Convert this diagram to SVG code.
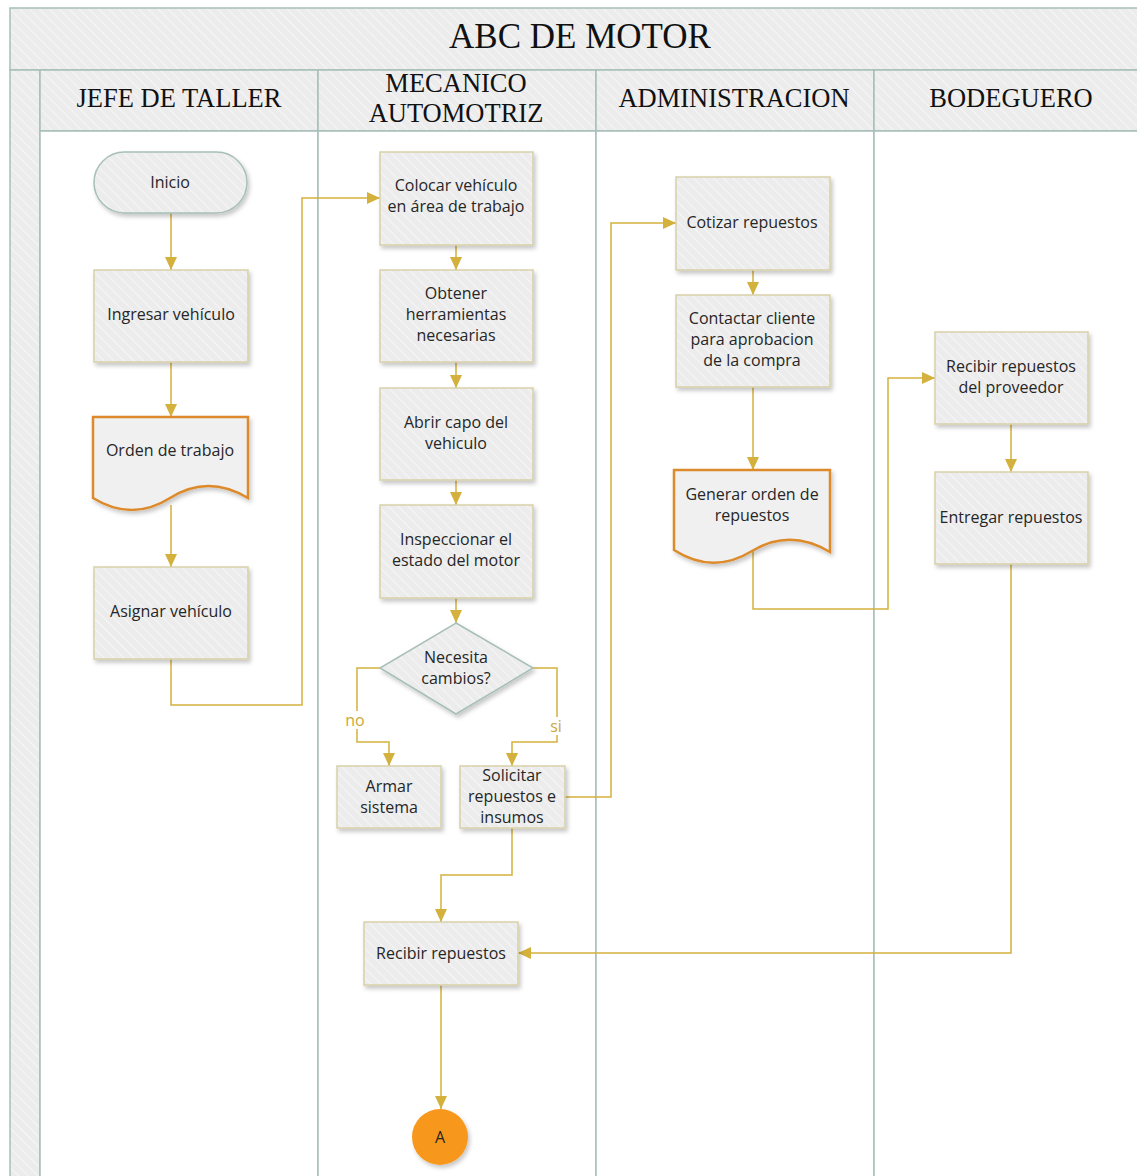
<svg xmlns="http://www.w3.org/2000/svg" width="1137" height="1176" viewBox="0 0 1137 1176">
<defs>
<pattern id="hatch" width="7" height="7" patternUnits="userSpaceOnUse" patternTransform="rotate(-45)">
<rect width="7" height="7" fill="#ececec"/>
<line x1="0" y1="0" x2="0" y2="7" stroke="#f6f6f6" stroke-width="2"/>
</pattern>
<filter id="sh" x="-10%" y="-10%" width="125%" height="130%">
<feDropShadow dx="2" dy="3" stdDeviation="2" flood-color="#000" flood-opacity="0.22"/>
</filter>
<marker id="arr" markerUnits="userSpaceOnUse" markerWidth="13" markerHeight="12" refX="13" refY="6" orient="auto">
<path d="M0,0 L13,6 L0,12 z" fill="#d3b13c"/>
</marker>
<style>
.frame{fill:url(#hatch);stroke:#a7bfb8;stroke-width:1.5}
.lane{fill:#ffffff;stroke:#a7bfb8;stroke-width:1.5}
.ttl{font-family:"Liberation Serif","Times New Roman",serif;fill:#111;text-anchor:middle}
.box{fill:url(#hatch);stroke:#d9d1a9;stroke-width:1.5;filter:url(#sh)}
.term{fill:url(#hatch);stroke:#a7bfb8;stroke-width:1.5;filter:url(#sh)}
.doc{fill:#f0f0f0;stroke:#dc8a2c;stroke-width:2.5;filter:url(#sh)}
.t{font-family:"Open Sans","Noto Sans","DejaVu Sans",sans-serif;font-size:16px;fill:#262626;text-anchor:middle}
.lbl{font-family:"Open Sans","Noto Sans","DejaVu Sans",sans-serif;font-size:16px;fill:#c9a83a;text-anchor:middle}
.c{fill:none;stroke:#d3b13c;stroke-width:1.5;marker-end:url(#arr)}
</style>
</defs>
<rect width="1137" height="1176" fill="#ffffff"/>
<g id="pool">
<rect class="frame" x="10" y="8" width="1140" height="62"/>
<rect class="frame" x="10" y="70" width="30" height="1120"/>
<rect class="frame" x="40" y="70" width="278" height="61"/>
<rect class="frame" x="318" y="70" width="278" height="61"/>
<rect class="frame" x="596" y="70" width="278" height="61"/>
<rect class="frame" x="874" y="70" width="276" height="61"/>
<rect class="lane" x="40" y="131" width="278" height="1060"/>
<rect class="lane" x="318" y="131" width="278" height="1060"/>
<rect class="lane" x="596" y="131" width="278" height="1060"/>
<rect class="lane" x="874" y="131" width="276" height="1060"/>
<text class="ttl" x="580" y="48" font-size="35">ABC DE MOTOR</text>
<text class="ttl" x="179" y="107" font-size="26.5">JEFE DE TALLER</text>
<text class="ttl" x="456" y="92" font-size="26.5">MECANICO</text>
<text class="ttl" x="456" y="122" font-size="26.5">AUTOMOTRIZ</text>
<text class="ttl" x="734" y="107" font-size="26.5">ADMINISTRACION</text>
<text class="ttl" x="1011" y="107" font-size="26.5">BODEGUERO</text>
</g>
<g id="connectors">
<path class="c" d="M171,213 V270"/>
<path class="c" d="M171,362 V417"/>
<path class="c" d="M171,505 V567"/>
<path class="c" d="M171,659 V705 H302 V198 H380"/>
<path class="c" d="M456,245 V270"/>
<path class="c" d="M456,362 V388"/>
<path class="c" d="M456,480 V505"/>
<path class="c" d="M456,598 V623"/>
<path class="c" d="M380,668 H357 V742 H389 V766"/>
<path class="c" d="M533,668 H557 V742 H512 V766"/>
<path class="c" d="M565,797 H611 V223 H676"/>
<path class="c" d="M512,828 V875 H441 V922"/>
<path class="c" d="M753,270 V295"/>
<path class="c" d="M753,387 V470"/>
<path class="c" d="M753,551 V609 H888 V378 H935"/>
<path class="c" d="M1011,424 V472"/>
<path class="c" d="M1011,564 V953 H518"/>
<path class="c" d="M441,985 V1109"/>
<rect x="344" y="711" width="23" height="18" fill="#ffffff"/>
<text class="lbl" x="355" y="726">no</text>
<rect x="549" y="717" width="15" height="18" fill="#ffffff"/>
<text class="lbl" x="556" y="732">si</text>
</g>
<g id="n-inicio">
<rect class="term" x="94" y="152" width="153" height="61" rx="30.5"/>
<text class="t" x="170" y="188">Inicio</text>
</g>
<g id="n-ingresar">
<rect class="box" x="94" y="270" width="154" height="92"/>
<text class="t" x="171" y="320">Ingresar vehículo</text>
</g>
<g id="n-orden">
<path class="doc" d="M93,417 H248 V498 Q208,474 170,498 Q132,522 93,498 Z"/>
<text class="t" x="170" y="456">Orden de trabajo</text>
</g>
<g id="n-asignar">
<rect class="box" x="94" y="567" width="154" height="92"/>
<text class="t" x="171" y="617">Asignar vehículo</text>
</g>
<g id="n-colocar">
<rect class="box" x="380" y="152" width="153" height="93"/>
<text class="t" x="456" y="191">Colocar vehículo</text>
<text class="t" x="456" y="212">en área de trabajo</text>
</g>
<g id="n-obtener">
<rect class="box" x="380" y="270" width="153" height="92"/>
<text class="t" x="456" y="299">Obtener</text>
<text class="t" x="456" y="320">herramientas</text>
<text class="t" x="456" y="341">necesarias</text>
</g>
<g id="n-abrir">
<rect class="box" x="380" y="388" width="153" height="92"/>
<text class="t" x="456" y="428">Abrir capo del</text>
<text class="t" x="456" y="449">vehiculo</text>
</g>
<g id="n-inspeccionar">
<rect class="box" x="380" y="505" width="153" height="93"/>
<text class="t" x="456" y="545">Inspeccionar el</text>
<text class="t" x="456" y="566">estado del motor</text>
</g>
<g id="n-decision">
<path class="term" d="M456,623 L533,668 L456,714 L380,668 Z"/>
<text class="t" x="456" y="663">Necesita</text>
<text class="t" x="456" y="684">cambios?</text>
</g>
<g id="n-armar">
<rect class="box" x="337" y="766" width="104" height="62"/>
<text class="t" x="389" y="792">Armar</text>
<text class="t" x="389" y="813">sistema</text>
</g>
<g id="n-solicitar">
<rect class="box" x="460" y="766" width="105" height="62"/>
<text class="t" x="512" y="781">Solicitar</text>
<text class="t" x="512" y="802">repuestos e</text>
<text class="t" x="512" y="823">insumos</text>
</g>
<g id="n-recibir">
<rect class="box" x="364" y="922" width="154" height="63"/>
<text class="t" x="441" y="959">Recibir repuestos</text>
</g>
<g id="n-a">
<circle cx="440" cy="1137" r="28" fill="#f7981d" filter="url(#sh)"/>
<text class="t" x="440" y="1143">A</text>
</g>
<g id="n-cotizar">
<rect class="box" x="676" y="177" width="154" height="93"/>
<text class="t" x="752" y="228">Cotizar repuestos</text>
</g>
<g id="n-contactar">
<rect class="box" x="676" y="295" width="154" height="92"/>
<text class="t" x="752" y="324">Contactar cliente</text>
<text class="t" x="752" y="345">para aprobacion</text>
<text class="t" x="752" y="366">de la compra</text>
</g>
<g id="n-generar">
<path class="doc" d="M674,470 H830 V552 Q790,528 752,551 Q713,575 674,550 Z"/>
<text class="t" x="752" y="500">Generar orden de</text>
<text class="t" x="752" y="521">repuestos</text>
</g>
<g id="n-recibir-prov">
<rect class="box" x="935" y="332" width="153" height="92"/>
<text class="t" x="1011" y="372">Recibir repuestos</text>
<text class="t" x="1011" y="393">del proveedor</text>
</g>
<g id="n-entregar">
<rect class="box" x="935" y="472" width="153" height="92"/>
<text class="t" x="1011" y="523">Entregar repuestos</text>
</g>
</svg>
